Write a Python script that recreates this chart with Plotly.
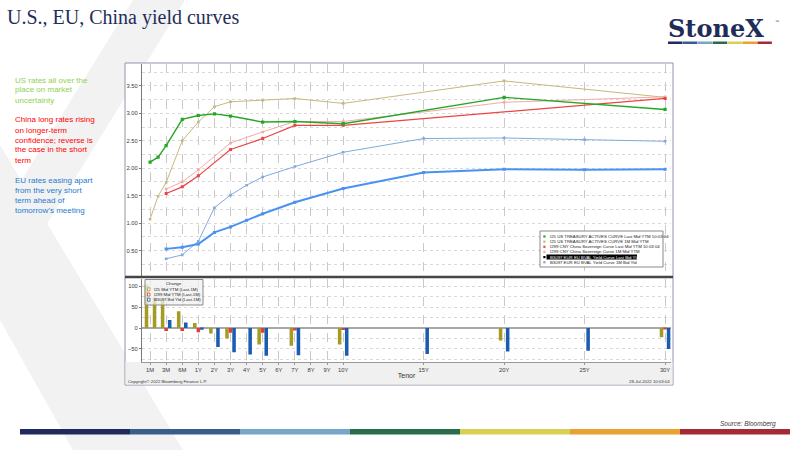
import plotly.graph_objects as go

W, H = 800, 450

# Bloomberg tenor axis: 1M..6M squeezed in front of 1Y, then linear in years
tenor_pos = {'1M': -2, '2M': -1.5, '3M': -1, '6M': 0, '1Y': 1, '2Y': 2, '3Y': 3, '4Y': 4,
             '5Y': 5, '6Y': 6, '7Y': 7, '8Y': 8, '9Y': 9, '10Y': 10, '15Y': 15,
             '20Y': 20, '25Y': 25, '30Y': 30}
tick_labels = ['1M', '3M', '6M', '1Y', '2Y', '3Y', '4Y', '5Y', '6Y', '7Y', '8Y', '9Y',
               '10Y', '15Y', '20Y', '25Y', '30Y']

# yield curves (%)
us_tenors = ['1M', '2M', '3M', '6M', '1Y', '2Y', '3Y', '5Y', '7Y', '10Y', '20Y', '30Y']
us_last = [2.11, 2.20, 2.41, 2.89, 2.96, 2.99, 2.95, 2.84, 2.85, 2.81, 3.29, 3.07]
us_1m = [1.07, 1.49, 1.74, 2.50, 2.84, 3.12, 3.21, 3.24, 3.27, 3.18, 3.59, 3.29]

cn_tenors_last = ['3M', '6M', '1Y', '3Y', '5Y', '7Y', '10Y', '30Y']
cn_last = [1.54, 1.66, 1.86, 2.34, 2.54, 2.78, 2.78, 3.27]
cn_tenors_1m = ['3M', '6M', '1Y', '3Y', '5Y', '7Y', '10Y', '20Y', '30Y']
cn_1m = [1.62, 1.75, 1.97, 2.46, 2.66, 2.85, 2.85, 3.20, 3.30]

eu_tenors = ['3M', '6M', '1Y', '2Y', '3Y', '4Y', '5Y', '7Y', '10Y', '15Y', '20Y', '25Y', '30Y']
eu_last = [0.53, 0.56, 0.62, 0.83, 0.93, 1.05, 1.17, 1.38, 1.63, 1.92, 1.98, 1.97, 1.98]
eu_1m = [0.35, 0.42, 0.67, 1.28, 1.51, 1.69, 1.84, 2.03, 2.29, 2.54, 2.55, 2.52, 2.49]

# change panel (bp, last - 1M)
us_chg = [103, 72, 66, 40, 12, -13, -25, -39, -42, -39, -30, -22]
cn_chg = [-7, -7, -10, -11, -11, -6, -5, -2]
eu_chg = [19, 13, -4, -45, -58, -63, -66, -65, -66, -62, -56, -54, -50]

curve_names = ['I25 US TREASURY ACTIVES CURVE Last Mid YTM 10:03:04',
               'I25 US TREASURY ACTIVES CURVE 1M Mid YTM',
               'I299 CNY China Sovereign Curve Last Mid YTM 10:03:04',
               'I299 CNY China Sovereign Curve 1M Mid YTM',
               'B3097 EUR EU BVAL Yield Curve Last Bid Yld',
               'B3097 EUR EU BVAL Yield Curve 1M Bid Yld']
change_names = ['I25 Mid YTM (Last-1M)', 'I299 Mid YTM (Last-1M)', 'B3097 Bid Yld (Last-1M)']

GREEN, TAN, RED, PINK, BLUE, LBLUE = '#24a824', '#c6b87c', '#ee4343', '#f4a9a9', '#4a92f2', '#80a9dd'
BAR_TAN, BAR_RED, BAR_BLUE = '#a59a24', '#e03c3c', '#1a5cb0'
NAVY = '#1f2d5a'
band = ['#1f2b5e', '#3a5e8c', '#78a6c8', '#2a6b4c', '#d8cf55', '#e8a32e', '#a52a36']


def px(x):
    return x / W


def py(y):
    return 1 - y / H


def pos(tenors):
    return [tenor_pos[t] for t in tenors]


fig = go.Figure()

# top panel: curves (1M-ago first so "last" sits on top)
curves = [
    (us_tenors, us_1m, TAN, 1, 2.6, curve_names[1]),
    (cn_tenors_1m, cn_1m, PINK, 1, 2.6, curve_names[3]),
    (eu_tenors, eu_1m, LBLUE, 1, 2.6, curve_names[5]),
    (cn_tenors_last, cn_last, RED, 1.2, 3, curve_names[2]),
    (eu_tenors, eu_last, BLUE, 2, 3, curve_names[4]),
    (us_tenors, us_last, GREEN, 1.4, 3.2, curve_names[0]),
]
for ten, vals, col, lw, ms, name in curves:
    fig.add_trace(go.Scatter(x=pos(ten), y=vals, mode='lines+markers', name=name,
                             line=dict(color=col, width=lw),
                             marker=dict(symbol='square', size=ms, color=col),
                             xaxis='x', yaxis='y', showlegend=False))

# bottom panel: changes
bars = [
    (us_tenors, us_chg, BAR_TAN, -0.33, change_names[0]),
    (cn_tenors_last, cn_chg, BAR_RED, -0.11, change_names[1]),
    (eu_tenors, eu_chg, BAR_BLUE, 0.11, change_names[2]),
]
for ten, vals, col, off, name in bars:
    fig.add_trace(go.Bar(x=pos(ten), y=vals, name=name, width=0.22, offset=off,
                         marker=dict(color=col, line=dict(width=0)),
                         xaxis='x2', yaxis='y2', showlegend=False))

shapes = []
# light grey chevron watermark
shapes.append(dict(type='path', xref='paper', yref='paper', layer='below',
                   path='M %f,%f L %f,%f L %f,%f L %f,%f Z' % (px(133), py(0), px(185), py(0),
                                                               px(0), py(300), px(0), py(215)),
                   fillcolor='#f2f2f2', line=dict(width=0)))
shapes.append(dict(type='path', xref='paper', yref='paper', layer='below',
                   path='M %f,%f L %f,%f L %f,%f L %f,%f Z' % (px(0), py(145), px(183), py(450),
                                                               px(73), py(450), px(0), py(320)),
                   fillcolor='#f2f2f2', line=dict(width=0)))
# bloomberg panel
shapes.append(dict(type='rect', xref='paper', yref='paper', layer='below',
                   x0=px(125), x1=px(673), y0=py(385), y1=py(63),
                   fillcolor='white', line=dict(color='#8c96a8', width=1)))
shapes.append(dict(type='rect', xref='paper', yref='paper', layer='below',
                   x0=px(125.5), x1=px(672.5), y0=py(384.5), y1=py(362),
                   fillcolor='#f0f0f0', line=dict(width=0)))
shapes.append(dict(type='line', xref='paper', yref='paper', layer='above',
                   x0=px(125), x1=px(673), y0=py(277), y1=py(277),
                   line=dict(color='#454545', width=2.5)))
# footer colour band and logo band
for i, c in enumerate(band):
    x0 = 20 + i * 110
    shapes.append(dict(type='rect', xref='paper', yref='paper', layer='below',
                       x0=px(x0), x1=px(x0 + 110), y0=py(434.5), y1=py(429),
                       fillcolor=c, line=dict(width=0)))
    lx = 668 + i * 14.9
    shapes.append(dict(type='rect', xref='paper', yref='paper', layer='below',
                       x0=px(lx), x1=px(lx + 14.5), y0=py(44), y1=py(41.5),
                       fillcolor=c, line=dict(width=0)))

# legend boxes (drawn by hand, Bloomberg style compact legend)
shapes.append(dict(type='rect', xref='paper', yref='paper', layer='above',
                   x0=px(540), x1=px(663), y0=py(267), y1=py(231),
                   fillcolor='rgba(255,255,255,0.92)', line=dict(color='#8a8a8a', width=1)))
shapes.append(dict(type='rect', xref='paper', yref='paper', layer='above',
                   x0=px(546.5), x1=px(637), y0=py(259.6), y1=py(254.6),
                   fillcolor='black', line=dict(width=0)))
shapes.append(dict(type='rect', xref='paper', yref='paper', layer='above',
                   x0=px(145), x1=px(203), y0=py(305), y1=py(279.5),
                   fillcolor='rgba(240,240,240,0.75)', line=dict(color='#8a8a8a', width=1)))

annotations = []


def note(x, y, text, size, color, family='Liberation Sans', xanchor='left', **kw):
    annotations.append(dict(xref='paper', yref='paper', x=px(x), y=py(y), text=text,
                            showarrow=False, xanchor=xanchor, yanchor='middle',
                            font=dict(family=family, size=size, color=color), **kw))


note(5, 17, 'U.S., EU, China yield curves', 20, NAVY, family='Liberation Serif')
note(666, 29, '<b>StoneX</b>', 24, NAVY, family='DejaVu Serif')
note(773, 22, '™', 4, NAVY)

left_notes = [
    (80, ['US rates all over the', 'place on market', 'uncertainty'], '#92d050'),
    (120, ['China long rates rising', 'on longer-term', 'confidence; reverse is',
           'the case in the short', 'term'], '#ff0000'),
    (180, ['EU rates easing apart', 'from the very short', 'term ahead of',
           'tomorrow’s meeting'], '#1f7ad0'),
]
for y0, lines, col in left_notes:
    for i, line in enumerate(lines):
        note(13, y0 + i * 10, line, 8, col)

note(778, 424, '<i>Source: Bloomberg</i>', 6.5, '#404040', xanchor='right')
note(126, 381.5, 'Copyright© 2022 Bloomberg Finance L.P.', 4.3, '#333333')
note(672, 381.5, '28-Jul-2022 10:03:04', 4.3, '#333333', xanchor='right')

# top legend entries
leg_cols = [GREEN, TAN, RED, PINK, 'black', LBLUE]
for i, (name, col) in enumerate(zip(curve_names, leg_cols)):
    yy = 236.5 + i * 5.15
    shapes.append(dict(type='rect', xref='paper', yref='paper', layer='above',
                       x0=px(543.3), x1=px(545.5), y0=py(yy + 1.1), y1=py(yy - 1.1),
                       fillcolor=col, line=dict(width=0)))
    note(547.5, yy, name, 4.3, 'white' if i == 4 else '#222222')

# bottom legend entries
note(174, 283.5, 'Change', 4.3, '#222222', xanchor='center')
for i, (name, col) in enumerate(zip(change_names, [BAR_TAN, BAR_RED, BAR_BLUE])):
    yy = 289.3 + i * 5.2
    shapes.append(dict(type='rect', xref='paper', yref='paper', layer='above',
                       x0=px(147.5), x1=px(150), y0=py(yy + 1.5), y1=py(yy - 1.5),
                       fillcolor='white', line=dict(color=col, width=0.8)))
    note(151.5, yy, name, 4.3, '#222222')

xdom = [px(142), px(671)]
xr = [-2.5, 30.37]
tickvals = pos(tick_labels)
vgrid = '#c9c9c9'
hgrid = '#d9d9d9'
tick_font = dict(family='Liberation Sans', size=5.8, color='#3a3a3a')

fig.update_layout(
    width=W, height=H, autosize=False,
    margin=dict(l=0, r=0, t=0, b=0),
    paper_bgcolor='white', plot_bgcolor='rgba(0,0,0,0)',
    barmode='overlay', showlegend=False,
    shapes=shapes, annotations=annotations,
    xaxis=dict(domain=xdom, range=xr, anchor='y', tickvals=tickvals, ticktext=tick_labels,
               showticklabels=False, showgrid=True, gridcolor=vgrid, griddash='dash',
               gridwidth=0.8, zeroline=False, showline=False, ticks=''),
    yaxis=dict(domain=[py(276), py(63.5)], range=[0.036, 3.907], anchor='x',
               tick0=0, dtick=0.5, tickformat='.2f', tickfont=tick_font,
               showgrid=True, gridcolor=hgrid, griddash='dot', gridwidth=0.8,
               minor=dict(dtick=0.25, showgrid=True, gridcolor=hgrid, griddash='dot', gridwidth=0.8),
               showline=True, linecolor='#7a7a7a', linewidth=1, ticks='outside',
               ticklen=2, tickcolor='#7a7a7a', zeroline=False),
    xaxis2=dict(domain=xdom, range=xr, anchor='y2', matches='x', tickvals=tickvals,
                ticktext=tick_labels, tickfont=tick_font, showgrid=True, gridcolor=vgrid,
                griddash='dash', gridwidth=0.8, zeroline=False, showline=True,
                linecolor='#9a9a9a', ticks='outside', ticklen=2, tickcolor='#9a9a9a',
                title=dict(text='Tenor', standoff=1,
                           font=dict(family='Liberation Sans', size=7, color='#333333')),
                automargin=False),
    yaxis2=dict(domain=[py(362), py(278.5)], range=[-81, 118], anchor='x2',
                tickvals=[-50, 0, 50, 100], tickfont=tick_font,
                showgrid=True, gridcolor=hgrid, griddash='dot', gridwidth=0.8,
                minor=dict(dtick=25, showgrid=True, gridcolor=hgrid, griddash='dot', gridwidth=0.8),
                showline=True, linecolor='#7a7a7a', linewidth=1, ticks='outside',
                ticklen=2, tickcolor='#7a7a7a',
                zeroline=True, zerolinecolor='#a8a8a8', zerolinewidth=1.5),
)

fig.write_html("out.html", config={'displayModeBar': False},
               post_script="document.body.style.margin='0';")
